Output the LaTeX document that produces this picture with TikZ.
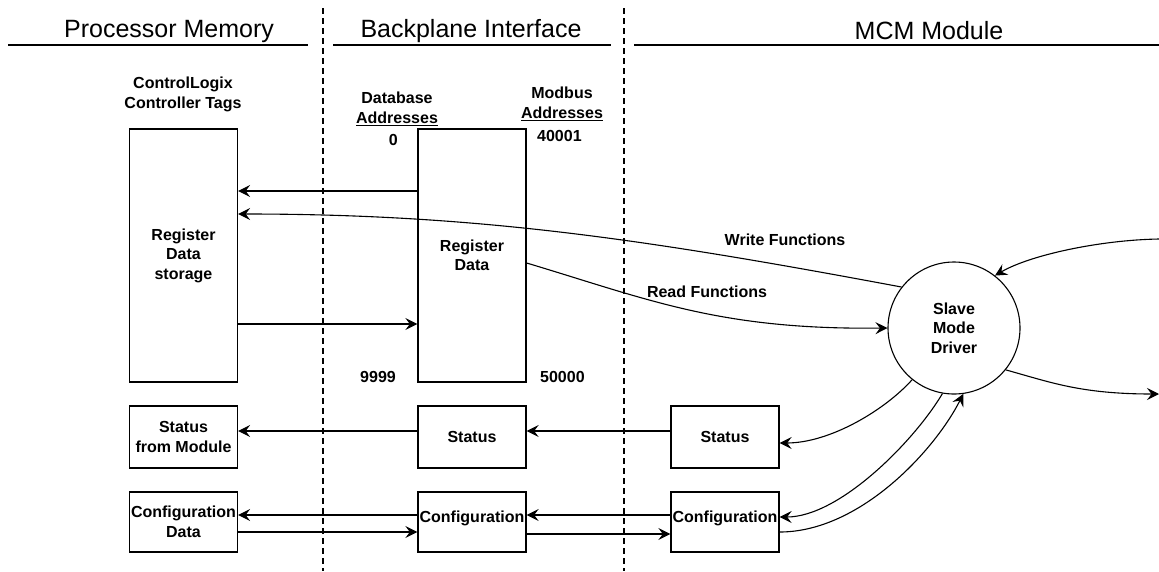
\documentclass[tikz,border=0pt]{standalone}
\usepackage{fontspec}
\setmainfont{Liberation Sans}
\usetikzlibrary{arrows.meta}
\newcommand\myul[1]{\setbox0\hbox{#1}\rlap{\rule[-2.8pt]{\wd0}{1.3pt}}\box0}
\begin{document}
\begin{tikzpicture}[x=1pt,y=-1pt,
  hdr/.style={font=\fontsize{25}{29}\selectfont, inner sep=0pt},
  lbl/.style={font=\bfseries\fontsize{16}{19.5}\selectfont, align=center, inner sep=0pt},
  box/.style={lbl, draw, line width=1.3pt, minimum width=108pt},
  drvnode/.style={lbl, draw, circle, line width=1.1pt, minimum size=132pt},
  arr/.style={draw, line width=1.1pt, -{Stealth[length=12pt,width=12pt,inset=4.5pt]}},
  hline/.style={line width=1.5pt},
  divider/.style={line width=1.2pt, dash pattern=on 6pt off 4pt}]
\useasboundingbox (0,0) rectangle (1159,571);

% column headers
\node[hdr] (h1) at (169,31) {Processor Memory};
\node[hdr] (h2) at (471,31) {Backplane Interface};
\node[hdr] (h3) at (929,31) {MCM Module};
\draw[hline] (8,45) -- (308,45);
\draw[hline] (333,45) -- (611,45);
\draw[hline] (634,45) -- (1159,45);
\draw[divider] (323,8) -- (323,571);
\draw[divider] (624,8) -- (624,571);

% labels
\node[lbl] (tags) at (183,94.5) {ControlLogix\\Controller Tags};
\node[lbl] (dbaddr) at (397,109) {Database\\\myul{Addresses}};
\node[lbl] (mbaddr) at (562,104) {Modbus\\\myul{Addresses}};
\node[lbl, anchor=east] (a0) at (398,140) {0};
\node[lbl, anchor=east] (a9999) at (396,377) {9999};
\node[lbl, anchor=west] (a40001) at (537,136) {40001};
\node[lbl, anchor=west] (a50000) at (540,377) {50000};

% boxes
\node[box, minimum height=253pt] (regL) at (183.5,255.5) {Register\\Data\\storage};
\node[box, minimum height=253pt] (regM) at (472,255.5) {Register\\Data};
\node[box, minimum height=62pt] (stL) at (183.5,437) {Status\\from Module};
\node[box, minimum height=62pt] (stM) at (472,437) {Status};
\node[box, minimum height=62pt] (stR) at (725,437) {Status};
\node[box, minimum height=60pt] (cfL) at (183.5,522) {Configuration\\Data};
\node[box, minimum height=60pt, text height=12pt, text depth=12pt] (cfM) at (472,522) {Configuration};
\node[box, minimum height=60pt, text height=12pt, text depth=12pt] (cfR) at (725,522) {Configuration};
\node[drvnode] (drv) at (954,328) {Slave\\Mode\\Driver};

\coordinate (inR) at (1159,239);
\coordinate (outR) at (1159,394);

% register data flows
\draw[arr] (regM.west |- 0,191) -- (regL.east |- 0,191);
\draw[arr] (drv.142) .. controls (650,240) and (480,214) .. (regL.east |- 0,214);
\draw[arr] (regL.east |- 0,324) -- (regM.west |- 0,324);
\draw[arr] (regM.east |- 0,263) .. controls (650,300) and (720,330) .. (drv.west);
\node[lbl] (wf) at (785,240) {Write Functions};
\node[lbl] (rf) at (707,292) {Read Functions};

% right side
\draw[arr] (inR) .. controls (1100,240) and (1030,255) .. (drv.52);
\draw[arr] (drv.-39) .. controls (1050,382) and (1080,394) .. (outR);

% status
\draw[arr] (stM.west |- 0,431) -- (stL.east |- 0,431);
\draw[arr] (stR.west |- 0,431) -- (stM.east |- 0,431);
\draw[arr] (drv.-129) .. controls (885,410) and (830,443) .. (stR.east |- 0,443);

% configuration
\draw[arr] (cfR.west |- 0,515) -- (cfM.east |- 0,515);
\draw[arr] (cfM.west |- 0,515) -- (cfL.east |- 0,515);
\draw[arr] (cfL.east |- 0,532) -- (cfM.west |- 0,532);
\draw[arr] (cfM.east |- 0,534) -- (cfR.west |- 0,534);
\draw[arr] (drv.-100) .. controls (915,440) and (840,517) .. (cfR.east |- 0,517);
\draw[arr] (cfR.east |- 0,532) .. controls (860,532) and (935,450) .. (drv.-82);
\end{tikzpicture}
\end{document}
